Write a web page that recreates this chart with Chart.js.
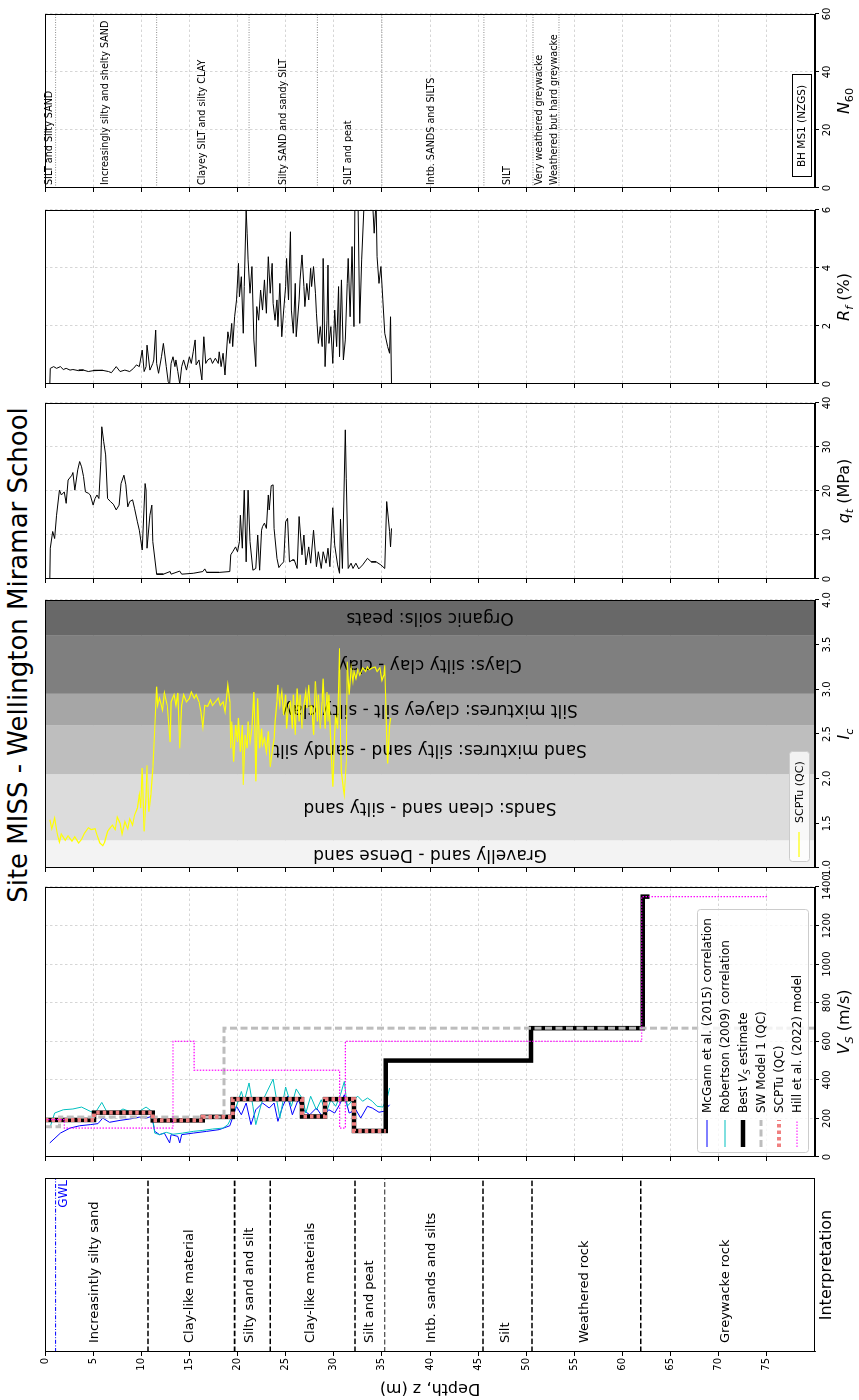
<!DOCTYPE html>
<html>
<head>
<meta charset="utf-8">
<title>Site MISS - Wellington Miramar School</title>
<script src="https://cdn.jsdelivr.net/npm/chart.js@4.4.1/dist/chart.umd.min.js"></script>
<style>
  html, body { margin: 0; padding: 0; background: #fff; overflow: hidden; }
  /* the figure is laid out landscape and turned a quarter to fit the page */
  #fig { position: absolute; left: 0; top: 0; width: 1400px; height: 859px; background: #fff;
         transform-origin: 0 0; transform: translate(0, 1400px) rotate(-90deg); }
  #fig canvas { position: absolute; top: 0; }
  #title { position: absolute; left: 745px; top: 5px; transform: translateX(-50%); white-space: nowrap;
           font: 26px/1 "DejaVu Sans", sans-serif; color: #000; }
</style>
</head>
<body>
<div id="fig"><div id="title">Site MISS - Wellington Miramar School</div></div>
<script>
const FONT = '"DejaVu Sans", sans-serif';
const DEPTH_MAX = 80;
const depthTicks = [0, 5, 10, 15, 20, 25, 30, 35, 40, 45, 50, 55, 60, 65, 70, 75];

// --- interpretation column
const interpBounds = [10.7, 19.7, 23.4, 32.2, 35.3, 45.5, 50.6, 61.9];
const interpNames = ['Increasintly silty sand', 'Clay-like material', 'Silty sand and silt', 'Clay-like materials',
  'Silt and peat', 'Intb. sands and silts', 'Silt', 'Weathered rock', 'Greywacke rock'];
const interpLabelDepth = [5.2, 15.0, 21.3, 27.6, 33.7, 40.2, 47.9, 56.1, 70.7];
const gwlDepth = 1.1;

// --- Vs profiles: layer edges (m) and velocities (m/s)
const bestEdges = [0, 5.1, 11.2, 16.4, 19.5, 26.7, 29.1, 32.1, 35.4, 50.5, 62.1, 62.8];
const bestVs = [192, 230, 190, 208, 300, 210, 300, 135, 500, 668, 1350];
const scptuEdges = [0, 5.1, 11.2, 16.4, 19.5, 26.7, 29.1, 32.1, 35.4];
const scptuVs = [192, 230, 190, 208, 300, 210, 300, 135];
const swEdges = [0, 1.5, 18.6, 80];
const swVs = [157, 207, 668];
const hillEdges = [0, 2.0, 13.3, 15.5, 30.6, 31.2, 62.0, 75.0];
const hillVs = [194, 150, 600, 450, 150, 600, 1350];

// CPT based Vs correlations [depth, Vs]
const mcgannVs = [[0.5,73],[1.6,124],[2.6,150],[3.6,162],[4.7,168],[5.5,173],[6.0,202],[6.7,180],[7.8,190],[8.8,197],
  [9.8,207],[10.5,202],[11.1,211],[11.4,133],[11.9,116],[12.4,124],[12.95,73],[13.1,116],[13.8,107],[14.0,73],
  [14.2,116],[15.4,124],[16.8,133],[18.1,142],[19.2,162],[19.9,263],[20.4,219],[20.9,280],[21.4,168],[21.9,245],
  [22.6,280],[23.3,254],[23.8,280],[24.2,185],[24.7,263],[25.2,315],[25.7,219],[26.3,297],[26.8,245],[27.5,219],
  [28.2,254],[28.8,211],[29.5,245],[30.1,228],[30.6,271],[31.1,323],[31.6,228],[32.3,245],[32.8,202],[33.5,263],
  [34.0,254],[34.7,232],[35.2,237],[35.8,271]];
const robertsonVs = [[0.5,150],[1.0,228],[1.9,245],[2.9,249],[3.8,259],[4.7,237],[5.2,228],[5.9,283],[6.4,237],[7.4,228],
  [8.1,249],[9.2,228],[9.8,237],[10.5,259],[11.1,237],[11.4,124],[11.9,116],[12.6,128],[13.3,118],[14.3,124],
  [15.4,133],[16.4,138],[17.4,145],[18.5,150],[19.0,168],[19.5,219],[20.0,280],[20.4,340],[20.7,289],[21.2,384],
  [21.6,263],[21.9,168],[22.5,280],[23.0,332],[23.7,404],[24.0,315],[24.4,202],[25.0,363],[25.6,263],[26.1,353],
  [26.8,297],[27.1,228],[27.6,315],[28.2,245],[28.7,297],[29.2,228],[29.7,297],[30.2,263],[30.7,323],[31.1,392],
  [31.4,263],[32.0,297],[32.5,315],[33.0,289],[33.5,306],[34.0,289],[34.5,263],[35.1,259],[35.6,315],[35.8,358]];

// --- Ic soil behaviour zones
const icZoneEdges = [1.0, 1.31, 2.05, 2.6, 2.95, 3.6, 4.0];
const icZoneNames = ['Gravelly sand - Dense sand', 'Sands: clean sand - silty sand', 'Sand mixtures: silty sand - sandy silt',
  'Silt mixtures: clayey silt - silty clay', 'Clays: silty clay - clay', 'Organic soils: peats'];
const icZoneColors = ['#f3f3f3', '#dcdcdc', '#bebebe', '#a6a6a6', '#7f7f7f', '#686868'];
const icLabelDepth = 40;

// SCPTu index Ic [depth, Ic]
const icProfile = [[0.5,1.54],[0.7,1.44],[1.0,1.56],[1.3,1.37],[1.5,1.29],[1.7,1.38],[2.1,1.31],[2.4,1.36],[2.8,1.30],[3.1,1.35],
  [3.5,1.28],[3.8,1.32],[4.1,1.39],[4.5,1.45],[4.8,1.43],[5.2,1.44],[5.4,1.37],[5.7,1.28],[6.0,1.25],[6.2,1.29],
  [6.5,1.41],[6.7,1.44],[7.0,1.48],[7.3,1.43],[7.5,1.57],[7.8,1.50],[8.0,1.38],[8.3,1.52],[8.6,1.44],[8.8,1.55],
  [9.1,1.48],[9.3,1.59],[9.6,1.67],[9.8,1.82],[9.95,1.67],[10.1,2.12],[10.3,1.41],[10.5,1.82],[10.6,2.15],[10.8,1.63],
  [11.0,1.82],[11.2,2.12],[11.4,2.56],[11.6,3.03],[11.7,2.82],[11.9,2.90],[12.2,2.77],[12.4,2.96],[12.7,2.82],[13.0,2.41],
  [13.1,2.86],[13.4,2.94],[13.6,2.82],[13.8,2.96],[14.0,2.34],[14.2,2.82],[14.4,2.94],[14.7,2.86],[15.0,2.90],[15.2,2.97],
  [15.5,2.90],[15.7,2.94],[16.0,2.86],[16.2,2.75],[16.4,2.58],[16.6,2.82],[16.9,2.81],[17.2,2.88],[17.4,2.82],[17.7,2.86],
  [18.0,2.90],[18.2,2.82],[18.5,2.86],[18.7,2.75],[19.0,3.05],[19.2,2.86],[19.3,2.34],[19.4,2.64],[19.6,2.19],[19.8,2.60],
  [20.0,2.41],[20.1,2.68],[20.3,2.30],[20.5,2.60],[20.6,1.93],[20.8,2.49],[21.0,2.34],[21.1,2.64],[21.3,2.41],[21.5,2.56],
  [21.7,2.97],[21.8,2.56],[21.9,1.97],[22.1,2.90],[22.3,2.34],[22.5,2.56],[22.6,2.38],[22.8,2.45],[23.0,2.30],[23.2,2.53],
  [23.4,2.13],[23.6,2.30],[23.8,2.45],[23.9,2.64],[24.1,2.86],[24.2,3.05],[24.4,2.82],[24.6,2.97],[24.8,2.71],[25.0,2.94],
  [25.1,2.56],[25.3,2.82],[25.5,2.86],[25.7,2.56],[25.8,2.94],[26.0,2.49],[26.2,3.01],[26.4,2.64],[26.5,2.94],[26.7,2.56],
  [26.9,2.82],[27.1,2.97],[27.2,2.79],[27.4,3.05],[27.6,2.71],[27.7,2.82],[27.9,2.49],[28.1,3.09],[28.3,2.64],[28.4,2.94],
  [28.6,2.56],[28.8,2.86],[28.9,3.12],[29.1,2.56],[29.3,2.97],[29.4,2.64],[29.5,2.94],[29.7,2.38],[29.9,1.91],[30.1,2.49],
  [30.2,2.71],[30.4,2.56],[30.6,3.46],[30.7,2.49],[30.8,2.08],[31.0,1.89],[31.1,1.82],[31.3,2.19],[31.4,3.31],[31.6,2.94],
  [31.8,3.24],[32.0,3.09],[32.1,3.20],[32.3,3.12],[32.5,3.22],[32.7,3.16],[33.0,3.24],[33.3,3.20],[33.5,3.25],[33.7,3.22],
  [34.0,3.24],[34.3,3.25],[34.5,3.20],[34.8,3.24],[35.0,3.10],[35.2,3.16],[35.3,3.27],[35.5,2.49],[35.6,2.17],[35.8,2.60],
  [35.9,2.68]];

// cone resistance qt (MPa) [depth, qt]
const qtProfile = [[0.5,0],[0.55,7],[0.8,10.8],[1.0,9.2],[1.2,14.5],[1.5,20.2],[1.7,19.1],[2.0,19.8],[2.2,17.2],[2.4,22.5],
  [2.8,23.6],[2.9,24.2],[3.1,20.2],[3.4,24.8],[3.6,26.7],[3.8,25.5],[4.0,23.3],[4.2,19.8],[4.5,19.5],[4.7,19.1],
  [5.0,16.8],[5.2,18.3],[5.4,19.1],[5.6,18.3],[5.8,26.7],[5.9,34.6],[6.1,31.2],[6.3,28.2],[6.5,18.3],[6.8,17.6],
  [7.1,17.0],[7.4,15.7],[7.7,16.8],[7.9,21.7],[8.2,23.6],[8.4,21.4],[8.6,16.4],[8.8,17.6],[9.1,18.0],[9.3,16.1],
  [9.6,13.0],[9.8,11.1],[10.1,6.6],[10.4,21.7],[10.5,20.2],[10.6,7.0],[10.9,14.5],[11.1,16.8],[11.2,8.5],[11.6,1.1],
  [12.3,1.1],[13.0,1.7],[13.1,1.1],[14.0,1.8],[14.2,1.1],[15.4,1.3],[16.4,1.7],[16.6,2.3],[16.8,1.5],[18.1,1.5],
  [19.2,1.7],[19.3,5.5],[19.5,6.2],[19.8,7.3],[20.0,6.2],[20.2,8.5],[20.3,14.5],[20.5,7.0],[20.7,20.2],[20.9,3.9],
  [21.1,20.2],[21.3,8.5],[21.6,2.0],[21.9,2.4],[22.1,10],[22.3,2.0],[22.5,11.1],[22.6,11.9],[22.8,12.7],[23.0,11.5],
  [23.2,19.1],[23.3,15.7],[23.5,21.2],[23.7,21.4],[23.8,11.5],[24.1,4.7],[24.3,2.6],[24.5,3.2],[24.8,3.9],[25.0,13.0],
  [25.2,13.8],[25.4,3.9],[25.7,4.3],[25.9,4.3],[26.2,2.4],[26.4,14.2],[26.7,5.5],[26.9,10.0],[27.1,3.2],[27.4,7.3],
  [27.6,3.6],[27.9,11.1],[28.2,2.8],[28.4,6.2],[28.7,2.4],[28.9,6.2],[29.2,3.6],[29.4,7.0],[29.6,2.8],[29.9,16.2],
  [30.1,7.7],[30.4,3.2],[30.6,1.3],[30.7,13.6],[30.9,2.4],[31.2,33.9],[31.3,22.9],[31.5,2.4],[31.8,3.6],[32.0,2.4],
  [32.3,3.6],[32.6,2.3],[33.0,3.2],[33.5,4.7],[33.9,3.9],[34.4,3.9],[34.9,3.2],[35.3,2.4],[35.5,17.6],[35.8,10.8],
  [35.9,7.3],[36.0,11.5]];

// friction ratio Rf (%) [depth, Rf]
const rfProfile = [[0.5,0],[0.55,0.54],[0.9,0.6],[1.2,0.54],[1.6,0.6],[1.9,0.5],[2.2,0.54],[2.6,0.48],[2.9,0.5],[3.5,0.46],
  [4.0,0.48],[4.5,0.43],[5.0,0.46],[5.5,0.48],[6.0,0.46],[6.6,0.43],[6.9,0.39],[7.4,0.6],[7.8,0.43],[8.3,0.48],
  [8.8,0.43],[9.2,0.54],[9.5,0.66],[9.8,0.6],[10.1,1.17],[10.3,0.43],[10.5,0.6],[10.6,1.34],[10.9,0.48],[11.2,0.71],
  [11.3,0.83],[11.5,1.86],[11.6,0.71],[11.8,0.37],[12.1,0.94],[12.3,1.4],[12.6,0.6],[12.8,0.08],[12.95,0],[13.1,0.71],
  [13.3,0.94],[13.5,0.6],[13.6,0.83],[13.8,0.43],[14.0,0],[14.2,0.6],[14.4,0.83],[14.7,0.48],[15.0,0.94],[15.2,0.71],
  [15.4,1.11],[15.6,1.52],[15.7,0.66],[16.0,0.83],[16.3,0.14],[16.5,1.63],[16.7,0.71],[16.9,0.83],[17.2,0.89],[17.4,0.71],
  [17.7,0.89],[18.0,0.71],[18.1,1.11],[18.3,0.6],[18.5,1.06],[18.7,0.31],[18.8,0.83],[19.0,1.8],[19.2,1.4],[19.4,2.09],
  [19.5,1.29],[19.7,2.32],[19.9,2.9],[20.1,4.16],[20.2,3.01],[20.4,3.7],[20.6,1.75],[20.7,3.36],[20.9,6.0],[21.0,5.2],
  [21.1,4.28],[21.3,3.13],[21.5,4.05],[21.7,1.52],[21.9,0.6],[22.0,2.67],[22.2,2.2],[22.4,3.24],[22.6,2.55],[22.8,3.59],
  [23.0,2.44],[23.2,4.39],[23.4,3.13],[23.6,4.16],[23.7,2.78],[23.9,2.2],[24.1,2.9],[24.2,1.98],[24.4,3.47],[24.6,1.63],
  [24.8,2.55],[25.0,3.36],[25.1,4.33],[25.3,2.9],[25.5,5.25],[25.6,2.55],[25.8,1.75],[26.0,3.47],[26.1,1.63],[26.4,2.9],
  [26.5,3.59],[26.7,4.45],[26.9,3.36],[27.0,2.67],[27.2,3.47],[27.4,2.9],[27.6,3.99],[27.7,3.36],[27.9,4.05],[28.1,3.13],
  [28.2,2.44],[28.4,1.4],[28.6,1.98],[28.8,1.29],[28.9,4.33],[29.1,0.6],[29.3,2.2],[29.4,4.1],[29.5,1.4],[29.7,1.98],
  [29.9,0.71],[30.1,2.55],[30.3,1.29],[30.5,3.36],[30.6,0.94],[30.8,3.59],[31.0,0.83],[31.2,1.52],[31.4,3.47],[31.5,4.33],
  [31.7,2.32],[31.9,4.74],[32.1,1.98],[32.2,6.4],[32.5,6.8],[32.7,2.09],[32.9,4.28],[33.2,6.6],[33.7,7.0],[34.0,6.5],
  [34.2,5.2],[34.4,6.3],[34.5,4.39],[34.7,3.47],[34.9,4.05],[35.1,2.9],[35.3,1.75],[35.6,1.29],[35.8,1.06],[35.9,2.32],
  [36.0,0]];

// --- borehole log BH MS1 (NZGS)
const n60Bounds = [1.1, 11.6, 21.2, 28.3, 35.0, 45.6, 50.7, 53.4];
const n60Names = ['SILT and Silty SAND', 'Increasingly silty and shelty SAND', 'Clayey SILT and silty CLAY',
  'Silty SAND and sandy SILT', 'SILT and peat', 'Intb. SANDS and SILTS', 'SILT', 'Very weathered greywacke',
  'Weathered but hard greywacke'];
const n60LabelDepth = [0.5, 6.3, 16.4, 24.8, 31.5, 40.2, 48.0, 51.4, 52.9];

// ---------------------------------------------------------------
const TOP = 45, BOTTOM = 815, FIG_H = 859;
const fig = document.getElementById('fig');

Chart.defaults.font.family = FONT;
Chart.defaults.color = '#000';

const asXY = pairs => pairs.map(([d, v]) => ({ x: v, y: d }));
function steps(edges, vals) {
  const pts = [];
  vals.forEach((v, i) => pts.push({ x: v, y: edges[i] }, { x: v, y: edges[i + 1] }));
  return pts;
}
const across = (d, x0, x1) => [{ x: x0, y: d }, { x: x1, y: d }];
function line(data, style) {
  return Object.assign({ data, showLine: true, pointRadius: 0, borderWidth: 1, fill: false, tension: 0 }, style);
}

const GRID = { color: '#cccccc', lineWidth: 0.8, tickColor: '#000', tickWidth: 1, tickLength: 4 };
const BORDER = { color: '#000', width: 1, dash: [2.5, 2.5] };

function depthAxis(first) {
  return {
    type: 'linear', reverse: true, min: 0, max: DEPTH_MAX,
    afterBuildTicks: ax => { ax.ticks = depthTicks.map(v => ({ value: v })); },
    afterFit: ax => { ax.width = first ? 48 : 10; ax.paddingTop = 0; ax.paddingBottom = 0; },
    ticks: { display: first, padding: 2, font: { size: 10 }, color: '#000' },
    grid: Object.assign({}, GRID, first ? { color: 'rgba(0,0,0,0)' } : {}),
    border: BORDER
  };
}
function valueAxis(min, max, step, fmt) {
  return {
    type: 'linear', position: 'bottom', min, max,
    afterFit: ax => { ax.height = FIG_H - BOTTOM; ax.paddingLeft = 0; ax.paddingRight = 0; },
    ticks: { stepSize: step, padding: 2, font: { size: 10 }, color: '#000', maxRotation: 0, autoSkip: false,
             callback: fmt || (v => v) },
    grid: GRID, border: BORDER
  };
}

// text with italic / subscript runs: parts = [[text, italic, sub], ...]
function rich(ctx, parts, x, y, size, align) {
  const runs = parts.map(p => ({
    t: p[0], font: (p[1] ? 'italic ' : '') + (p[2] ? size * 0.7 : size) + 'px ' + FONT, dy: p[2] ? size * 0.22 : 0
  }));
  let w = 0;
  runs.forEach(r => { ctx.font = r.font; r.w = ctx.measureText(r.t).width; w += r.w; });
  let cx = align === 'left' ? x : x - w / 2;
  ctx.textAlign = 'left';
  ctx.textBaseline = 'alphabetic';
  runs.forEach(r => { ctx.font = r.font; ctx.fillText(r.t, cx, y + r.dy); cx += r.w; });
}

function frame(chart, color) {
  const { ctx, chartArea: a } = chart;
  ctx.save();
  ctx.strokeStyle = color || '#000';
  ctx.lineWidth = 1;
  ctx.strokeRect(a.left + 0.5, a.top + 0.5, a.right - a.left - 1, a.bottom - a.top - 1);
  ctx.restore();
}

function xTitle(chart, parts, y) {
  const { ctx, chartArea: a } = chart;
  ctx.save();
  ctx.fillStyle = '#000';
  rich(ctx, parts, (a.left + a.right) / 2, y, 16, 'center');
  ctx.restore();
}

function strokeSample(ctx, x0, x1, y, st) {
  ctx.save();
  ctx.strokeStyle = st.borderColor;
  ctx.lineWidth = st.borderWidth;
  ctx.setLineDash(st.borderDash || []);
  ctx.beginPath(); ctx.moveTo(x0, y); ctx.lineTo(x1, y); ctx.stroke();
  ctx.restore();
}
function legendBox(ctx, x0, y0, x1, y1) {
  ctx.save();
  ctx.fillStyle = 'rgba(255,255,255,0.8)';
  ctx.strokeStyle = '#cccccc';
  ctx.lineWidth = 1;
  ctx.beginPath();
  ctx.roundRect(x0 + 0.5, y0 + 0.5, x1 - x0, y1 - y0, 3);
  ctx.fill(); ctx.stroke();
  ctx.restore();
}

function panel(L, R, first, datasets, x, decor) {
  const yw = first ? 48 : 10, pr = 16;
  const canvas = document.createElement('canvas');
  canvas.width = R - L + yw + pr;
  canvas.height = FIG_H;
  canvas.style.left = (L - yw) + 'px';
  fig.appendChild(canvas);
  return new Chart(canvas, {
    type: 'scatter',
    data: { datasets },
    options: {
      responsive: false, animation: false, events: [],
      layout: { padding: { top: TOP, right: pr, left: 0, bottom: 0 } },
      plugins: { legend: { display: false }, tooltip: { enabled: false } },
      scales: { x, y: depthAxis(first) }
    },
    plugins: [{
      id: 'decor',
      beforeDatasetsDraw: c => { if (decor.under) decor.under(c); },
      afterDatasetsDraw: c => { frame(c); if (decor.over) decor.over(c); }
    }]
  });
}

// ---------- 1. interpretation
panel(48, 222, true,
  [line(across(gwlDepth, 0, 1), { borderColor: '#0000ff', borderDash: [4, 1.6, 1, 1.6] })].concat(
    interpBounds.map((d, i) => line(across(d, 0, 1), i === 4
      ? { borderColor: '#222', borderWidth: 1.2, borderDash: [5, 2.5] }
      : { borderColor: '#000', borderWidth: 1.6, borderDash: [5.5, 2.4] }))),
  { type: 'linear', position: 'bottom', min: 0, max: 1,
    afterFit: ax => { ax.height = FIG_H - BOTTOM; ax.paddingLeft = 0; ax.paddingRight = 0; },
    ticks: { display: false }, grid: { display: false }, border: { display: false } },
  {
    over: c => {
      const { ctx, chartArea: a, scales: { y } } = c;
      ctx.save();
      ctx.fillStyle = '#000';
      ctx.font = '13px ' + FONT;
      ctx.textAlign = 'left'; ctx.textBaseline = 'middle';
      interpNames.forEach((n, i) => ctx.fillText(n, a.left + 9, y.getPixelForValue(interpLabelDepth[i])));
      ctx.fillStyle = '#0000ff';
      ctx.font = '12px ' + FONT;
      ctx.textAlign = 'right';
      ctx.fillText('GWL', a.right - 2, y.getPixelForValue(gwlDepth) + 8);
      // depth axis title
      ctx.fillStyle = '#000';
      ctx.font = '16px ' + FONT;
      ctx.translate(12, (a.top + a.bottom) / 2);
      ctx.rotate(-Math.PI / 2);
      ctx.textAlign = 'center';
      ctx.fillText('Depth, z (m)', 0, 0);
      ctx.restore();
      xTitle(c, [['Interpretation']], 831);
    }
  });

// ---------- 2. shear wave velocity
const vsSets = [
  line(asXY(mcgannVs), { label: 'McGann et al. (2015) correlation', borderColor: '#0000ff', borderWidth: 1, order: 5 }),
  line(asXY(robertsonVs), { label: 'Robertson (2009) correlation', borderColor: '#00bfbf', borderWidth: 1, order: 4 }),
  line(steps(bestEdges, bestVs), { label: 'Best Vs estimate', borderColor: '#000', borderWidth: 4.5, order: 3 }),
  line(steps(swEdges, swVs), { label: 'SW Model 1 (QC)', borderColor: '#bdbdbd', borderWidth: 3, borderDash: [7, 3.5], order: 2 }),
  line(steps(scptuEdges, scptuVs), { label: 'SCPTu (QC)', borderColor: '#f08080', borderWidth: 4, borderDash: [3.5, 3], order: 1 }),
  line(steps(hillEdges, hillVs), { label: 'Hill et al. (2022) model', borderColor: '#ff00ff', borderWidth: 1.2, borderDash: [1.5, 1.5], order: 0 })
];
const vsLegendText = [
  [['McGann et al. (2015) correlation']], [['Robertson (2009) correlation']],
  [['Best '], ['V', 1], ['S', 1, 1], [' estimate']], [['SW Model 1 (QC)']], [['SCPTu (QC)']], [['Hill et al. (2022) model']]
];
panel(243, 513, false, vsSets, valueAxis(0, 1400, 200), {
  over: c => {
    const { ctx, chartArea: a } = c;
    legendBox(ctx, a.left + 4, a.bottom - 118, a.left + 247, a.bottom - 7);
    vsSets.forEach((ds, i) => {
      const yy = a.bottom - 108 + i * 18;
      strokeSample(ctx, a.left + 10, a.left + 37, yy, ds);
      ctx.save(); ctx.fillStyle = '#000';
      rich(ctx, vsLegendText[i], a.left + 44, yy + 4.4, 12, 'left');
      ctx.restore();
    });
    xTitle(c, [['V', 1], ['S', 1, 1], [' (m/s)']], 849);
  }
});

// ---------- 3. soil behaviour type index
const icSet = line(asXY(icProfile), { borderColor: '#ffff00', borderWidth: 1.2 });
panel(532, 800, false, [icSet], valueAxis(1, 4, 0.5, v => v.toFixed(1)), {
  under: c => {
    const { ctx, chartArea: a, scales: { x, y } } = c;
    ctx.save();
    icZoneColors.forEach((col, i) => {
      const x0 = x.getPixelForValue(icZoneEdges[i]), x1 = x.getPixelForValue(icZoneEdges[i + 1]);
      ctx.fillStyle = col;
      ctx.fillRect(x0, a.top, x1 - x0, a.bottom - a.top);
    });
    ctx.fillStyle = '#000';
    ctx.font = '17px ' + FONT;
    ctx.textAlign = 'center'; ctx.textBaseline = 'middle';
    icZoneNames.forEach((n, i) => {
      const cx = x.getPixelForValue((icZoneEdges[i] + icZoneEdges[i + 1]) / 2);
      ctx.save();
      ctx.translate(cx, y.getPixelForValue(icLabelDepth));
      ctx.rotate(-Math.PI / 2);
      ctx.fillText(n, 0, 0);
      ctx.restore();
    });
    ctx.restore();
  },
  over: c => {
    const { ctx, chartArea: a } = c;
    legendBox(ctx, a.left + 6, a.bottom - 26, a.left + 116, a.bottom - 6);
    strokeSample(ctx, a.left + 11, a.left + 36, a.bottom - 16, icSet);
    ctx.save(); ctx.fillStyle = '#000';
    rich(ctx, [['SCPTu (QC)']], a.left + 45, a.bottom - 12, 11, 'left');
    ctx.restore();
    xTitle(c, [['I', 1], ['c', 1, 1]], 849);
  }
});

// ---------- 4. cone resistance
panel(821, 997, false, [line(asXY(qtProfile), { borderColor: '#000', borderWidth: 1 })], valueAxis(0, 40, 10), {
  over: c => xTitle(c, [['q', 1], ['t', 1, 1], [' (MPa)']], 849)
});

// ---------- 5. friction ratio
panel(1016, 1190, false, [line(asXY(rfProfile), { borderColor: '#000', borderWidth: 1 })], valueAxis(0, 6, 2), {
  over: c => xTitle(c, [['R', 1], ['f', 1, 1], [' (%)']], 849)
});

// ---------- 6. borehole log
panel(1212, 1386, false,
  n60Bounds.map(d => line(across(d, 0, 60), { borderColor: '#808080', borderWidth: 0.9, borderDash: [1, 1.5] })),
  valueAxis(0, 60, 20), {
    over: c => {
      const { ctx, chartArea: a, scales: { y } } = c;
      ctx.save();
      ctx.fillStyle = '#000';
      ctx.font = '9.6px ' + FONT;
      ctx.textAlign = 'left'; ctx.textBaseline = 'middle';
      n60Names.forEach((n, i) => ctx.fillText(n, a.left + 3, y.getPixelForValue(n60LabelDepth[i])));
      // borehole tag
      const bx0 = a.left + 11, bx1 = a.left + 113, by0 = a.bottom - 23, by1 = a.bottom - 4;
      ctx.fillStyle = '#fff';
      ctx.fillRect(bx0, by0, bx1 - bx0, by1 - by0);
      ctx.strokeStyle = '#000'; ctx.lineWidth = 1;
      ctx.strokeRect(bx0 + 0.5, by0 + 0.5, bx1 - bx0, by1 - by0);
      ctx.fillStyle = '#000';
      ctx.font = '10.5px ' + FONT;
      ctx.textAlign = 'center';
      ctx.fillText('BH MS1 (NZGS)', (bx0 + bx1) / 2, (by0 + by1) / 2 + 1);
      ctx.restore();
      xTitle(c, [['N', 1], ['60', 0, 1]], 849);
    }
  });
</script>
</body>
</html>
